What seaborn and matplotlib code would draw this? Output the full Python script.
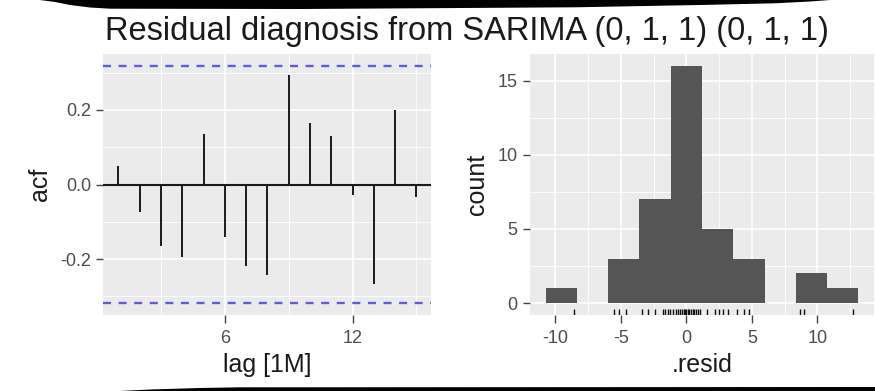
import numpy as np
import pandas as pd
import matplotlib
matplotlib.use("Agg")
import matplotlib.pyplot as plt
import seaborn as sns
from matplotlib.patches import Polygon
from matplotlib.ticker import FixedLocator

# ---------------- data ----------------
title = "Residual diagnosis from SARIMA (0, 1, 1) (0, 1, 1)"
lags = list(range(1, 16))
acf_values = [0.049, -0.075, -0.165, -0.195, 0.135, -0.141, -0.219, -0.244,
              0.294, 0.166, 0.131, -0.029, -0.266, 0.200, -0.033]
ci_bound = 0.318
resid = [-8.6,
         -5.5, -5.1, -4.6,
         -3.4, -2.9, -2.4, -1.8, -1.6, -1.4, -1.25,
         -1.0, -0.8, -0.6, -0.5, -0.3, -0.2, -0.1, 0.0, 0.1, 0.2, 0.35, 0.5,
         0.6, 0.75, 0.9, 1.05,
         1.6, 2.2, 2.5, 2.8, 3.2,
         3.9, 4.4, 4.8,
         8.7, 9.0,
         12.7]
hist_binwidth = 2.385
acf_xticks = [6, 12]
acf_xminor = [3, 9, 15]
acf_yticks = [-0.2, 0.0, 0.2]
acf_yminor = [-0.3, -0.1, 0.1, 0.3]
hist_xticks = [-10, -5, 0, 5, 10]
hist_xminor = [-12.5, -7.5, -2.5, 2.5, 7.5, 12.5]
hist_yticks = [0, 5, 10, 15]
hist_yminor = [2.5, 7.5, 12.5]

# ---------------- style ----------------
sns.set_theme(style="darkgrid", rc={"axes.facecolor": "#EBEBEB",
                                     "figure.facecolor": "white",
                                     "grid.color": "white"})
plt.rcParams["font.family"] = ["Liberation Sans", "DejaVu Sans"]
plt.rcParams["axes.unicode_minus"] = False

W, H = 875, 391
fig = plt.figure(figsize=(W / 100, H / 100), dpi=100)

def px_axes(x0, y0, x1, y1):
    return fig.add_axes([x0 / W, 1 - y1 / H, (x1 - x0) / W, (y1 - y0) / H])

ax1 = px_axes(103.4, 54, 431.4, 315)
ax2 = px_axes(530, 54, 874, 315)

# ---------------- ACF panel ----------------
df_acf = pd.DataFrame({"lag": lags, "acf": acf_values})
ax1.vlines(df_acf["lag"], 0, df_acf["acf"], color="#1a1a1a", lw=1.4, zorder=3)
ax1.axhline(0, color="#1a1a1a", lw=1.5, zorder=3)
for b in (ci_bound, -ci_bound):
    ax1.axhline(b, color="#5C5CE0", lw=1.7, ls=(0, (3.4, 3.2)), zorder=3)
ax1.set_xlim(0.3, 15.7)
ax1.set_ylim(-0.35, 0.35)
ax1.xaxis.set_major_locator(FixedLocator(acf_xticks))
ax1.xaxis.set_minor_locator(FixedLocator(acf_xminor))
ax1.yaxis.set_major_locator(FixedLocator(acf_yticks))
ax1.yaxis.set_minor_locator(FixedLocator(acf_yminor))
ax1.set_yticklabels([f"{v:.1f}" for v in acf_yticks])
ax1.set_xlabel("lag [1M]")
ax1.set_ylabel("acf")

# ---------------- histogram panel ----------------
df_res = pd.DataFrame({"resid": resid})
edges = np.arange(-4.5, 5.51, 1.0) * hist_binwidth
sns.histplot(data=df_res, x="resid", bins=edges, color="#555555", alpha=1,
             linewidth=0, edgecolor=None, ax=ax2, zorder=2)
sns.rugplot(data=df_res, x="resid", height=0.022, color="#111111", lw=1.1,
            ax=ax2, zorder=3)
ax2.set_xlim(-11.92, 14.31)
ax2.set_ylim(-0.8, 16.8)
ax2.xaxis.set_major_locator(FixedLocator(hist_xticks))
ax2.xaxis.set_minor_locator(FixedLocator(hist_xminor))
ax2.yaxis.set_major_locator(FixedLocator(hist_yticks))
ax2.yaxis.set_minor_locator(FixedLocator(hist_yminor))
ax2.set_xlabel(".resid")
ax2.set_ylabel("count")

for ax in (ax1, ax2):
    ax.set_axisbelow(True)
    for s in ax.spines.values():
        s.set_visible(False)
    ax.grid(which="major", color="white", lw=1.2)
    ax.grid(which="minor", color="white", lw=0.6)
    ax.tick_params(axis="both", which="major", width=1,
                   color="#444444", labelsize=13, labelcolor="#4D4D4D",
                   bottom=True, left=True)
    ax.tick_params(axis="x", which="major", length=6, pad=5)
    ax.tick_params(axis="y", which="major", length=5, pad=4)
    ax.tick_params(axis="both", which="minor", length=0)
    ax.xaxis.label.set_size(18)
    ax.yaxis.label.set_size(18)
    ax.xaxis.label.set_color("#1a1a1a")
    ax.yaxis.label.set_color("#1a1a1a")
    ax.xaxis.labelpad = 4
    ax.yaxis.labelpad = 6

fig.text(105 / W, 1 - 40 / H, title, fontsize=23.5, ha="left",
         va="baseline", color="#1a1a1a")

# ---------------- photo border bands ----------------
def band(points):
    pts = [(x / W, 1 - y / H) for x, y in points]
    fig.add_artist(Polygon(pts, closed=True, transform=fig.transFigure,
                           facecolor="black", edgecolor="none", zorder=10))

band([(40, -5), (40, 0), (55, 2), (70, 5), (90, 7.5), (110, 8.7), (300, 9),
      (575, 7.3), (700, 5), (775, 3.3), (810, 1.5), (830, 0), (830, -5)])
band([(115, 396), (120, 391), (150, 389.5), (200, 388), (240, 387.3),
      (875, 387), (880, 396)])

fig.savefig("out.png", dpi=100)
